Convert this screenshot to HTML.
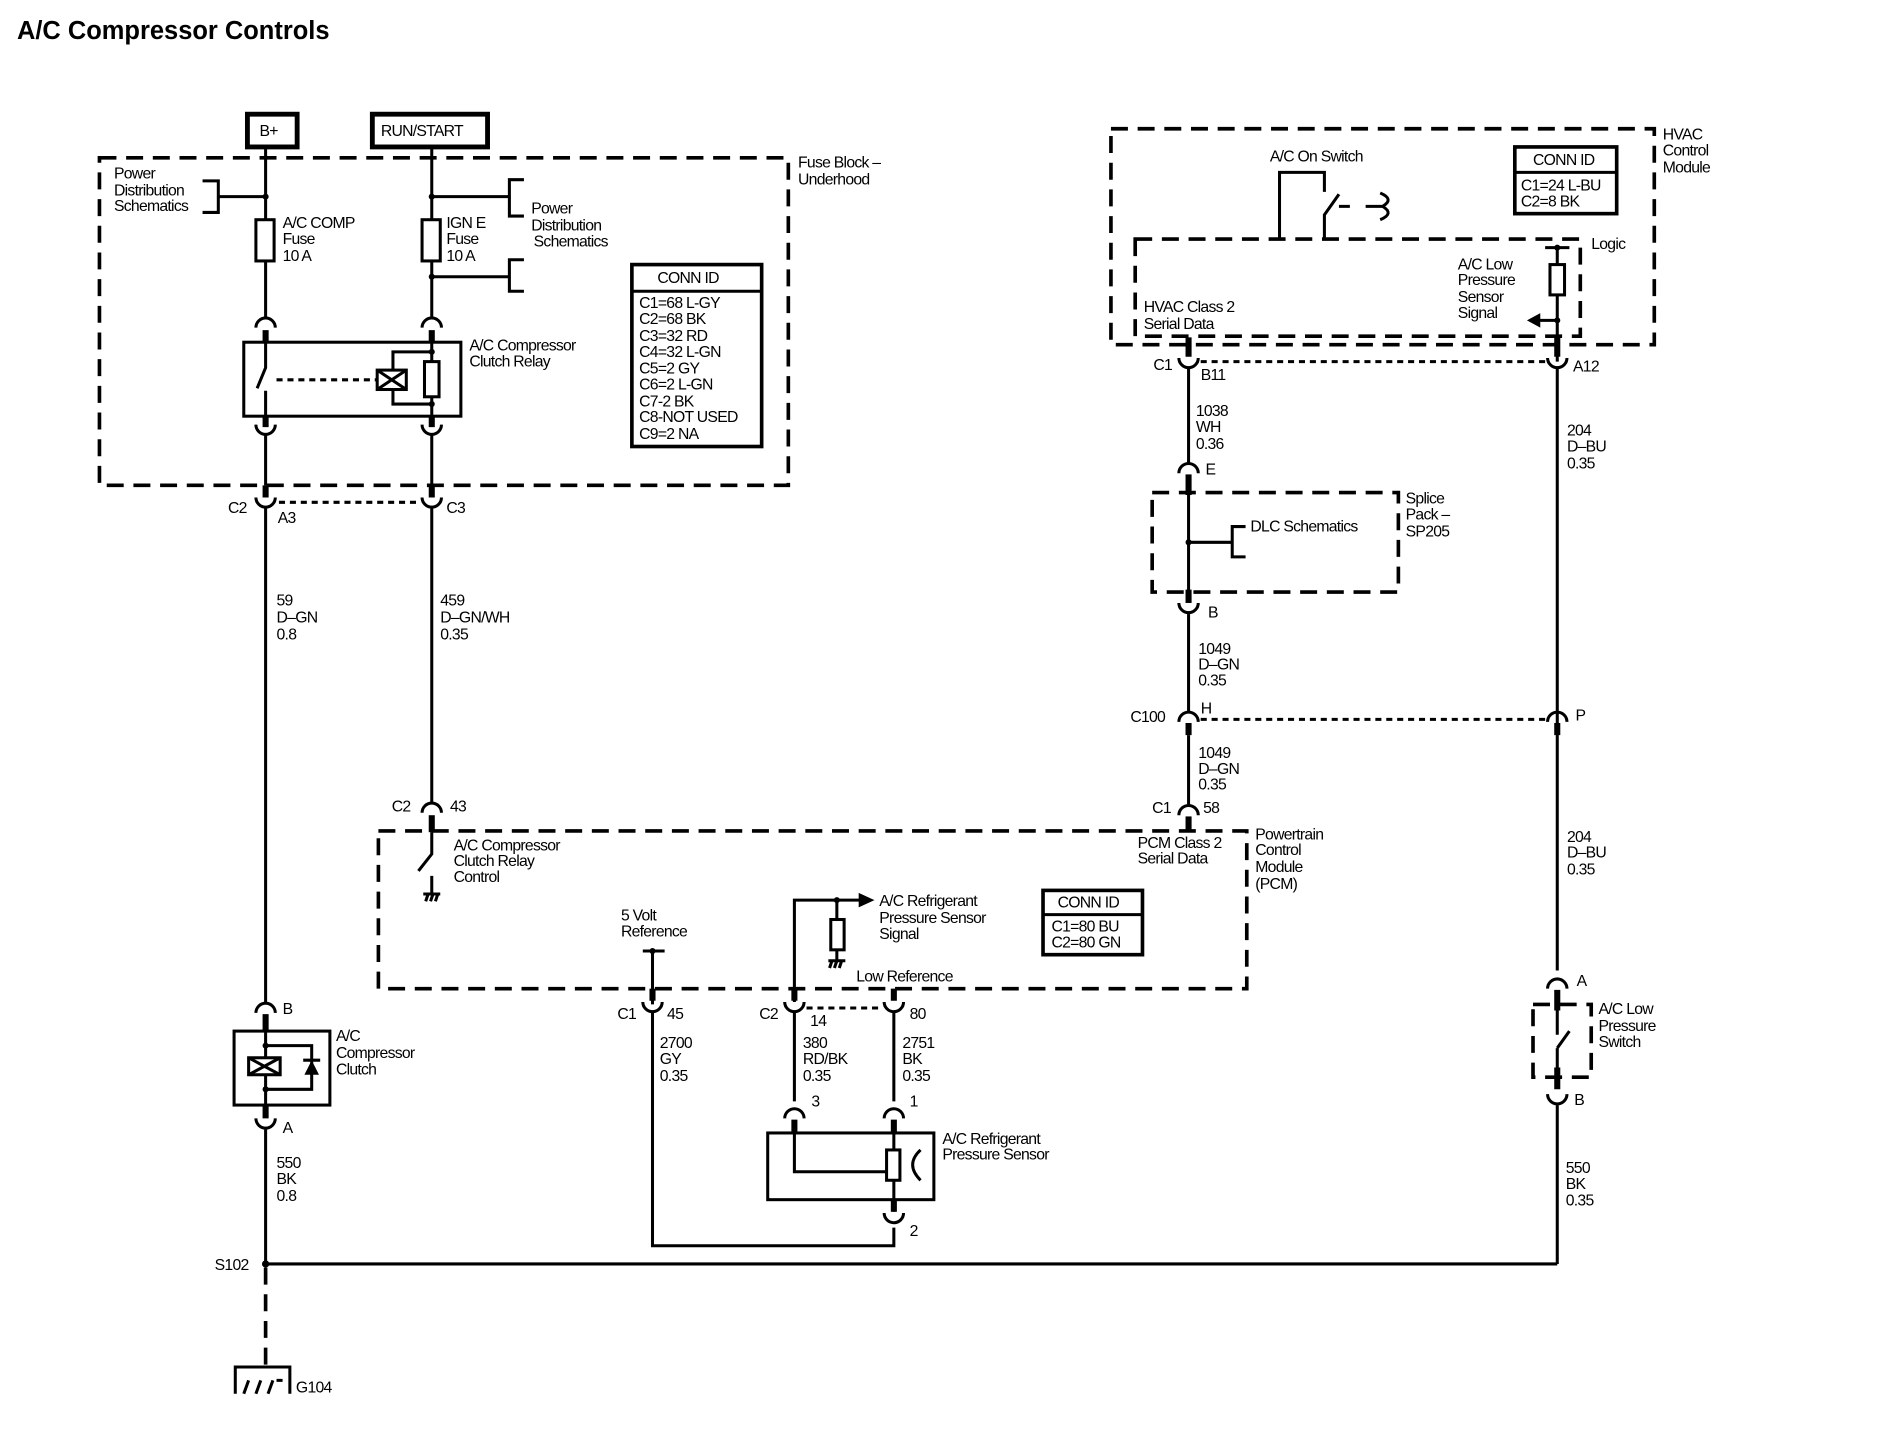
<!DOCTYPE html>
<html><head><meta charset="utf-8"><style>
html,body{margin:0;padding:0;background:#fff;}
svg{display:block;}
text{font-family:"Liberation Sans",Arial,sans-serif;font-size:13px;fill:#000;letter-spacing:-0.6px;}
.t{font-size:21px;font-weight:bold;letter-spacing:0px;}
.w{stroke:#000;stroke-width:2.5;fill:none;}
.k{stroke:#000;stroke-width:5;fill:none;}
.d{stroke:#000;stroke-width:3;fill:none;stroke-dasharray:14 8;}
.sd{stroke:#000;stroke-width:2.5;fill:none;stroke-dasharray:5 4;}
.b{stroke:#000;stroke-width:2.5;fill:#fff;}
</style></head><body>
<svg width="1892" height="1440" viewBox="0 0 1560 1187" xmlns="http://www.w3.org/2000/svg">
<text class="t" x="14" y="32">A/C Compressor Controls</text>

<rect x="204" y="94" width="41" height="27" fill="#fff" stroke="#000" stroke-width="4"/>
<text x="214" y="112">B+</text>
<rect x="307" y="94" width="95" height="27" fill="#fff" stroke="#000" stroke-width="4"/>
<text x="314" y="112">RUN/START</text>

<rect x="82" y="130" width="568" height="270" class="d"/>
<text x="658" y="138">Fuse Block –</text><text x="658" y="152">Underhood</text>

<path class="w" d="M219 121V262 M356 121V262"/>
<text x="94" y="147">Power</text><text x="94" y="161">Distribution</text><text x="94" y="174">Schematics</text>
<path class="w" d="M167 149H180V175H167 M180 162H219"/>
<circle cx="219" cy="162" r="2.5"/>
<rect x="211" y="181" width="15" height="34" class="b"/>
<text x="233" y="188">A/C COMP</text><text x="233" y="201">Fuse</text><text x="233" y="215">10 A</text>
<rect x="348" y="181" width="15" height="34" class="b"/>
<text x="368" y="188">IGN E</text><text x="368" y="201">Fuse</text><text x="368" y="215">10 A</text>
<path class="w" d="M356 162H420 M432 148H420V178H432 M356 228H420 M432 214H420V240H432"/>
<circle cx="356" cy="162" r="2.5"/><circle cx="356" cy="228" r="2.5"/>
<text x="438" y="176">Power</text><text x="438" y="190">Distribution</text><text x="440" y="203">Schematics</text>

<rect x="521" y="218" width="107" height="150" fill="#fff" stroke="#000" stroke-width="3"/>
<path class="w" d="M521 240H628"/>
<text x="542" y="233">CONN ID</text>
<text x="527" y="254">C1=68 L-GY</text><text x="527" y="267">C2=68 BK</text><text x="527" y="281">C3=32 RD</text>
<text x="527" y="294">C4=32 L-GN</text><text x="527" y="308">C5=2 GY</text><text x="527" y="321">C6=2 L-GN</text>
<text x="527" y="335">C7-2 BK</text><text x="527" y="348">C8-NOT USED</text><text x="527" y="362">C9=2 NA</text>

<path class="w" d="M211 270A8 8 0 0 1 227 270 M348 270A8 8 0 0 1 364 270"/>
<path class="k" d="M219 272V282 M356 272V282 M219 343V352 M356 343V352"/>
<rect x="201" y="282" width="179" height="61" class="w"/>
<path class="w" d="M219 282V303L212 320 M219 322V343"/>
<path class="sd" d="M228 313H311"/>
<rect x="311" y="305" width="24" height="16" class="b"/>
<path class="w" d="M311 305L335 321M335 305L311 321"/>
<path class="w" d="M356 282V343 M356 290H324V305 M324 321V333H356"/>
<rect x="350" y="298" width="12" height="29" class="b"/>
<circle cx="356" cy="290" r="2.5"/><circle cx="356" cy="333" r="2.5"/>
<text x="387" y="289">A/C Compressor</text><text x="387" y="302">Clutch Relay</text>
<path class="w" d="M211 350A8 8 0 0 0 227 350 M348 350A8 8 0 0 0 364 350"/>
<path class="w" d="M219 358V400 M356 358V400"/>

<path class="k" d="M219 400V410 M356 400V410"/>
<path class="w" d="M211 410A8 8 0 0 0 227 410 M348 410A8 8 0 0 0 364 410"/>
<path class="sd" d="M230 414H346"/>
<text x="188" y="423">C2</text><text x="229" y="431">A3</text><text x="368" y="423">C3</text>
<path class="w" d="M219 418V826 M356 418V662"/>
<text x="228" y="499">59</text><text x="228" y="513">D–GN</text><text x="228" y="527">0.8</text>
<text x="363" y="499">459</text><text x="363" y="513">D–GN/WH</text><text x="363" y="527">0.35</text>

<path class="w" d="M348 670A8 8 0 0 1 364 670"/>
<path class="k" d="M356 672V686"/>
<text x="323" y="669">C2</text><text x="371" y="669">43</text>

<rect x="312" y="685" width="716" height="130" class="d"/>
<path class="w" d="M356 686V704L345 718 M356 722V737"/>
<path class="w" d="M349 737H363 M351 743L353 737 M355 743L357 737 M359 743L361 737"/>
<text x="374" y="701">A/C Compressor</text><text x="374" y="714">Clutch Relay</text><text x="374" y="727">Control</text>
<text x="1035" y="692">Powertrain</text><text x="1035" y="705">Control</text><text x="1035" y="719">Module</text><text x="1035" y="733">(PCM)</text>
<text x="938" y="699">PCM Class 2</text><text x="938" y="712">Serial Data</text>
<rect x="860" y="734" width="82" height="53" fill="#fff" stroke="#000" stroke-width="3"/>
<path class="w" d="M860 754H942"/>
<text x="872" y="748">CONN ID</text><text x="867" y="768">C1=80 BU</text><text x="867" y="781">C2=80 GN</text>

<text x="512" y="759">5 Volt</text><text x="512" y="772">Reference</text>
<path class="w" d="M530 784H548 M538 784V828"/>
<circle cx="538" cy="784" r="2.5"/>
<path class="k" d="M538 815V825"/>
<path class="w" d="M530 826A8 8 0 0 0 546 826"/>
<text x="509" y="840">C1</text><text x="550" y="840">45</text>

<path class="w" d="M655 826V742H710"/>
<path d="M708 736L721 742L708 748Z"/>
<circle cx="690" cy="742" r="2.5"/>
<path class="w" d="M690 742V792"/>
<rect x="685" y="758" width="11" height="25" class="b"/>
<path class="w" d="M683 792H697 M684 798L686 792 M688 798L690 792 M692 798L694 792"/>
<text x="725" y="747">A/C Refrigerant</text><text x="725" y="761">Pressure Sensor</text><text x="725" y="774">Signal</text>
<text x="706" y="809">Low Reference</text>
<path class="k" d="M655 815V825 M737 815V825"/>
<path class="w" d="M647 826A8 8 0 0 0 663 826 M729 826A8 8 0 0 0 745 826"/>
<path class="sd" d="M665 831H727"/>
<text x="626" y="840">C2</text><text x="668" y="846">14</text><text x="750" y="840">80</text>
<path class="w" d="M538 834V1027H737V1012 M655 834V908 M737 834V908"/>
<text x="544" y="864">2700</text><text x="544" y="877">GY</text><text x="544" y="891">0.35</text>
<text x="662" y="864">380</text><text x="662" y="877">RD/BK</text><text x="662" y="891">0.35</text>
<text x="744" y="864">2751</text><text x="744" y="877">BK</text><text x="744" y="891">0.35</text>

<path class="w" d="M647 922A8 8 0 0 1 663 922 M729 922A8 8 0 0 1 745 922"/>
<path class="k" d="M655 923V935 M737 923V935"/>
<text x="669" y="912">3</text><text x="750" y="912">1</text>
<rect x="633" y="934" width="137" height="55" class="w"/>
<path class="w" d="M655 934V966H732 M737 934V999"/>
<rect x="731" y="948" width="11" height="25" class="b"/>
<path class="w" d="M759 948Q746 960 759 973"/>
<text x="777" y="943">A/C Refrigerant</text><text x="777" y="956">Pressure Sensor</text>
<path class="k" d="M737 989V999"/>
<path class="w" d="M729 1000A8 8 0 0 0 745 1000"/>
<text x="750" y="1019">2</text>

<path class="w" d="M211 835A8 8 0 0 1 227 835"/>
<path class="k" d="M219 836V850 M219 911V922"/>
<text x="233" y="836">B</text>
<rect x="193" y="850" width="79" height="61" class="w"/>
<path class="w" d="M219 850V911 M219 862H257V898H219"/>
<circle cx="219" cy="862" r="2.5"/><circle cx="219" cy="898" r="2.5"/>
<rect x="205" y="872" width="26" height="14" class="b" stroke-width="3"/>
<path class="w" d="M205 872L231 886M231 872L205 886"/>
<path d="M251 886L263 886L257 874Z"/><path class="w" d="M250 874H264"/>
<text x="277" y="858">A/C</text><text x="277" y="872">Compressor</text><text x="277" y="886">Clutch</text>
<path class="w" d="M211 922A8 8 0 0 0 227 922 M219 930V1042"/>
<text x="233" y="934">A</text>
<text x="228" y="963">550</text><text x="228" y="976">BK</text><text x="228" y="990">0.8</text>
<path class="w" d="M219 1042H1284" stroke-width="3"/>
<circle cx="219" cy="1042" r="3"/>
<text x="177" y="1047">S102</text>
<path class="d" d="M219 1045V1127" stroke-width="3"/>
<path class="w" d="M194 1149V1127H239V1149 M201 1149L205 1138 M211 1149L215 1138 M221 1149L225 1138 M228 1138H233" stroke-width="3"/>
<text x="244" y="1148">G104</text>

<rect x="916" y="106" width="448" height="178" class="d"/>
<text x="1371" y="115">HVAC</text><text x="1371" y="128">Control</text><text x="1371" y="142">Module</text>
<text x="1047" y="133">A/C On Switch</text>
<path class="w" d="M1055 196V142H1092V158 M1092 196V177L1104 160 M1104 170H1113 M1126 170H1140" stroke-width="3"/>
<path class="w" d="M1138 159Q1150 164 1140 170Q1150 176 1138 181" stroke-width="3"/>
<rect x="1249" y="121" width="84" height="55" fill="#fff" stroke="#000" stroke-width="3"/>
<path class="w" d="M1249 142H1333"/>
<text x="1264" y="136">CONN ID</text><text x="1254" y="157">C1=24 L-BU</text><text x="1254" y="170">C2=8 BK</text>
<rect x="936" y="197" width="367" height="80" class="d"/>
<text x="1312" y="205">Logic</text>
<path class="w" d="M1274 204H1294 M1284 204V298"/>
<circle cx="1284" cy="204" r="2.5"/>
<rect x="1278" y="218" width="12" height="25" class="b"/>
<path class="w" d="M1284 264H1268"/>
<path d="M1270 258L1259 264L1270 270Z"/><circle cx="1284" cy="264" r="2.5"/>
<text x="1202" y="222">A/C Low</text><text x="1202" y="235">Pressure</text><text x="1202" y="249">Sensor</text><text x="1202" y="262">Signal</text>
<text x="943" y="257">HVAC Class 2</text><text x="943" y="271">Serial Data</text>
<path class="k" d="M980 278V294 M1284 278V294"/>
<path class="w" d="M972 295A8 8 0 0 0 988 295 M1276 295A8 8 0 0 0 1292 295"/>
<path class="sd" d="M990 298H1274"/>
<text x="951" y="305">C1</text><text x="990" y="313">B11</text><text x="1297" y="306">A12</text>
<path class="w" d="M980 303V382 M1284 303V800"/>
<text x="986" y="343">1038</text><text x="986" y="356">WH</text><text x="986" y="370">0.36</text>
<text x="1292" y="359">204</text><text x="1292" y="372">D–BU</text><text x="1292" y="386">0.35</text>
<path class="w" d="M972 390A8 8 0 0 1 988 390"/>
<path class="k" d="M980 391V408"/>
<text x="994" y="391">E</text>
<rect x="950" y="406" width="203" height="82" class="d" stroke-width="2.5" stroke-dasharray="11 7"/>
<path class="w" d="M980 408V488 M980 447H1016 M1027 434H1016V459H1027"/>
<circle cx="980" cy="447" r="2.5"/>
<text x="1031" y="438">DLC Schematics</text>
<text x="1159" y="415">Splice</text><text x="1159" y="428">Pack –</text><text x="1159" y="442">SP205</text>
<path class="k" d="M980 486V497"/>
<path class="w" d="M972 497A8 8 0 0 0 988 497 M980 505V588"/>
<text x="996" y="509">B</text>
<text x="988" y="539">1049</text><text x="988" y="552">D–GN</text><text x="988" y="565">0.35</text>
<path class="w" d="M972 595A8 8 0 0 1 988 595 M1276 595A8 8 0 0 1 1292 595"/>
<path class="k" d="M980 596V606 M1284 596V606"/>
<path class="sd" d="M990 593H1274"/>
<text x="932" y="595">C100</text><text x="990" y="588">H</text><text x="1299" y="594">P</text>
<path class="w" d="M980 606V664"/>
<text x="988" y="625">1049</text><text x="988" y="638">D–GN</text><text x="988" y="651">0.35</text>
<path class="w" d="M972 672A8 8 0 0 1 988 672"/>
<path class="k" d="M980 673V686"/>
<text x="950" y="670">C1</text><text x="992" y="670">58</text>
<text x="1292" y="694">204</text><text x="1292" y="707">D–BU</text><text x="1292" y="721">0.35</text>

<path class="w" d="M1276 815A8 8 0 0 1 1292 815"/>
<text x="1300" y="813">A</text>
<path class="k" d="M1284 816V833 M1284 880V898"/>
<path class="d" stroke-width="2.5" stroke-dasharray="10 6" d="M1264 828H1312V888H1264Z"/>
<path class="w" d="M1284 833V853 M1284 864L1294 850 M1284 864V880"/>
<text x="1318" y="836">A/C Low</text><text x="1318" y="850">Pressure</text><text x="1318" y="863">Switch</text>
<path class="w" d="M1276 902A8 8 0 0 0 1292 902 M1284 910V1042"/>
<text x="1298" y="911">B</text>
<text x="1291" y="967">550</text><text x="1291" y="980">BK</text><text x="1291" y="994">0.35</text>
</svg>
</body></html>
